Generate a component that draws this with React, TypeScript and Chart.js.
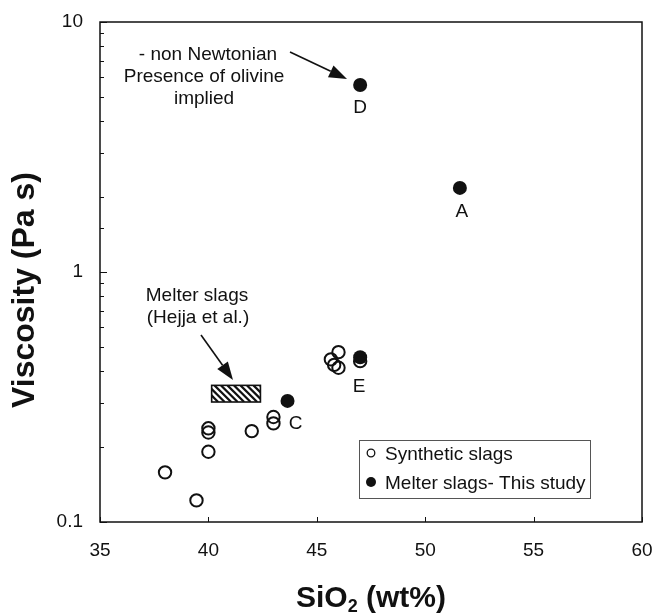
import React, { useEffect, useRef } from 'react';
import { Chart, registerables } from 'chart.js';

Chart.register(...registerables);

// ---- data ----
const syntheticSiO2 = [38.0, 39.45, 40.0, 40.0, 40.0, 42.0, 43.0, 43.0, 45.65, 45.8, 46.0, 46.0, 47.0];
const syntheticViscosity = [0.158, 0.122, 0.191, 0.228, 0.237, 0.231, 0.248, 0.263, 0.447, 0.425, 0.414, 0.478, 0.44];
const melterSiO2 = [43.65, 47.0, 47.0, 51.6];
const melterViscosity = [0.305, 0.456, 5.6, 2.17];
const melterLabels = ['C', 'E', 'D', 'A'];
const hejjaSiO2Range = [40.15, 42.4];
const hejjaViscosityRange = [0.302, 0.352];
const xTickValues = [35, 40, 45, 50, 55, 60];
const yTickValues = [0.1, 1, 10];
const seriesNames = ['Synthetic slags', 'Melter slags- This study'];
const annotationTop = ['- non Newtonian', 'Presence of olivine', 'implied'];
const annotationHejja = ['Melter slags', '(Hejja et al.)'];

const FONT = "'Liberation Sans', Arial, Helvetica, sans-serif";
const INK = '#111';

const isMajorY = (v: number) => yTickValues.some((t) => Math.abs(t - v) < 1e-9);

function drawArrow(ctx: CanvasRenderingContext2D, x1: number, y1: number, x2: number, y2: number, headLen: number, headW: number) {
  const ang = Math.atan2(y2 - y1, x2 - x1);
  const bx = x2 - headLen * Math.cos(ang);
  const by = y2 - headLen * Math.sin(ang);
  ctx.beginPath();
  ctx.moveTo(x1, y1);
  ctx.lineTo(bx, by);
  ctx.stroke();
  ctx.beginPath();
  ctx.moveTo(x2, y2);
  ctx.lineTo(bx + (headW / 2) * Math.sin(ang), by - (headW / 2) * Math.cos(ang));
  ctx.lineTo(bx - (headW / 2) * Math.sin(ang), by + (headW / 2) * Math.cos(ang));
  ctx.closePath();
  ctx.fill();
}

const decorPlugin = {
  id: 'decor',
  beforeDatasetsDraw(chart: any) {
    const ctx: CanvasRenderingContext2D = chart.ctx;
    const xs = chart.scales.x;
    const ys = chart.scales.y;
    // hatched rectangle (Hejja et al. melter slags)
    const rx1 = xs.getPixelForValue(hejjaSiO2Range[0]);
    const rx2 = xs.getPixelForValue(hejjaSiO2Range[1]);
    const ry1 = ys.getPixelForValue(hejjaViscosityRange[1]);
    const ry2 = ys.getPixelForValue(hejjaViscosityRange[0]);
    ctx.save();
    ctx.beginPath();
    ctx.rect(rx1, ry1, rx2 - rx1, ry2 - ry1);
    ctx.clip();
    ctx.strokeStyle = INK;
    ctx.lineWidth = 2.2;
    const h = ry2 - ry1;
    for (let x = rx1 - h; x < rx2 + h; x += 6.5) {
      ctx.beginPath();
      ctx.moveTo(x, ry1);
      ctx.lineTo(x + h, ry2);
      ctx.stroke();
    }
    ctx.restore();
    ctx.save();
    ctx.strokeStyle = INK;
    ctx.lineWidth = 1.6;
    ctx.strokeRect(rx1, ry1, rx2 - rx1, ry2 - ry1);
    ctx.restore();
  },
  afterDraw(chart: any) {
    const ctx: CanvasRenderingContext2D = chart.ctx;
    const xs = chart.scales.x;
    const ys = chart.scales.y;
    const ca = chart.chartArea;
    ctx.save();
    ctx.strokeStyle = INK;
    ctx.fillStyle = INK;
    // frame
    ctx.lineWidth = 1.5;
    ctx.strokeRect(ca.left, ca.top, ca.right - ca.left, ca.bottom - ca.top);
    // y tick marks (inside)
    ctx.lineWidth = 1;
    ys.ticks.forEach((t: any) => {
      const p = Math.round(ys.getPixelForValue(t.value)) + 0.5;
      const len = isMajorY(t.value) ? 7 : 4;
      ctx.beginPath();
      ctx.moveTo(ca.left, p);
      ctx.lineTo(ca.left + len, p);
      ctx.stroke();
    });
    // x tick marks (inside)
    xTickValues.forEach((v) => {
      const p = Math.round(xs.getPixelForValue(v)) + 0.5;
      ctx.beginPath();
      ctx.moveTo(p, ca.bottom);
      ctx.lineTo(p, ca.bottom - 5);
      ctx.stroke();
    });

    // point labels
    ctx.font = `19px ${FONT}`;
    ctx.textAlign = 'center';
    ctx.textBaseline = 'middle';
    const offsets: Record<string, [number, number]> = { C: [8, 23], E: [-1, 30], D: [0, 23], A: [2, 24] };
    const meta = chart.getDatasetMeta(1);
    meta.data.forEach((el: any, i: number) => {
      const lab = melterLabels[i];
      const o = offsets[lab] || [0, 22];
      ctx.fillText(lab, el.x + o[0], el.y + o[1]);
    });

    // annotations
    ctx.font = `19px ${FONT}`;
    ctx.textBaseline = 'alphabetic';
    ctx.fillText(annotationTop[0], 208, 60);
    ctx.fillText(annotationTop[1], 204, 82);
    ctx.fillText(annotationTop[2], 204, 104);
    ctx.fillText(annotationHejja[0], 197, 301);
    ctx.fillText(annotationHejja[1], 198, 323);
    ctx.lineWidth = 1.6;
    drawArrow(ctx, 290, 52, 347, 79, 18, 13);
    drawArrow(ctx, 201, 335, 233, 380, 18, 13);

    // legend
    ctx.lineWidth = 1;
    ctx.strokeStyle = '#555';
    ctx.strokeRect(359.5, 440.5, 231, 58);
    ctx.strokeStyle = INK;
    ctx.lineWidth = 1.3;
    ctx.beginPath();
    ctx.arc(371, 453, 3.8, 0, Math.PI * 2);
    ctx.stroke();
    ctx.beginPath();
    ctx.arc(371, 482, 5, 0, Math.PI * 2);
    ctx.fill();
    ctx.textAlign = 'left';
    ctx.font = `19px ${FONT}`;
    ctx.fillText(seriesNames[0], 385, 460);
    ctx.fillText(seriesNames[1], 385, 489);

    // axis titles
    ctx.fillStyle = INK;
    ctx.textAlign = 'center';
    // y title
    ctx.save();
    ctx.translate(34, 290);
    ctx.rotate(-Math.PI / 2);
    ctx.font = `bold 32px ${FONT}`;
    ctx.fillText('Viscosity (Pa s)', 0, 0);
    ctx.restore();
    // x title with subscript
    const big = `bold 30px ${FONT}`;
    const small = `bold 18px ${FONT}`;
    ctx.textAlign = 'left';
    ctx.font = big;
    const w1 = ctx.measureText('SiO').width;
    const w3 = ctx.measureText(' (wt%)').width;
    ctx.font = small;
    const w2 = ctx.measureText('2').width;
    const total = w1 + w2 + w3;
    const cx = (ca.left + ca.right) / 2;
    let x0 = cx - total / 2;
    const base = 607;
    ctx.font = big;
    ctx.fillText('SiO', x0, base);
    x0 += w1;
    ctx.font = small;
    ctx.fillText('2', x0, base + 5);
    x0 += w2;
    ctx.font = big;
    ctx.fillText(' (wt%)', x0, base);
    ctx.restore();
  },
};

export default function App() {
  const ref = useRef<HTMLCanvasElement | null>(null);
  useEffect(() => {
    document.body.style.margin = '0';
    const canvas = ref.current;
    if (!canvas) return;
    const chart = new Chart(canvas, {
      type: 'scatter',
      data: {
        datasets: [
          {
            label: seriesNames[0],
            data: syntheticSiO2.map((x, i) => ({ x, y: syntheticViscosity[i] })),
            pointStyle: 'circle',
            pointRadius: 6.2,
            pointBorderWidth: 2,
            borderColor: INK,
            backgroundColor: 'rgba(0,0,0,0)',
          },
          {
            label: seriesNames[1],
            data: melterSiO2.map((x, i) => ({ x, y: melterViscosity[i] })),
            pointStyle: 'circle',
            pointRadius: 7,
            pointBorderWidth: 0,
            borderColor: INK,
            backgroundColor: INK,
          },
        ],
      },
      options: {
        responsive: false,
        animation: false,
        events: [],
        layout: { padding: { top: 22, right: 14, left: 0, bottom: 0 } },
        plugins: { legend: { display: false }, tooltip: { enabled: false }, title: { display: false } },
        scales: {
          x: {
            type: 'linear',
            min: 35,
            max: 60,
            grid: { display: false, drawTicks: false },
            border: { display: false },
            afterBuildTicks: (scale: any) => {
              scale.ticks = xTickValues.map((v) => ({ value: v }));
            },
            afterFit: (scale: any) => {
              scale.height = 91;
              scale.paddingLeft = 0;
              scale.paddingRight = 0;
            },
            ticks: {
              autoSkip: false,
              maxRotation: 0,
              padding: 17,
              color: INK,
              font: { family: FONT, size: 19 },
              callback: (v: any) => String(v),
            },
          },
          y: {
            type: 'logarithmic',
            min: 0.1,
            max: 10,
            grid: { display: false, drawTicks: false },
            border: { display: false },
            afterFit: (scale: any) => {
              scale.width = 100;
              scale.paddingTop = 0;
              scale.paddingBottom = 0;
            },
            ticks: {
              autoSkip: false,
              padding: 17,
              color: INK,
              font: { family: FONT, size: 19 },
              callback: (v: any) => (isMajorY(Number(v)) ? String(Number(v)) : ''),
            },
          },
        },
      },
      plugins: [decorPlugin],
    } as any);
    return () => chart.destroy();
  }, []);
  return (
    <div style={{ width: 656, height: 613, background: '#fff' }}>
      <canvas ref={ref} width={656} height={613} style={{ display: 'block' }} />
    </div>
  );
}
